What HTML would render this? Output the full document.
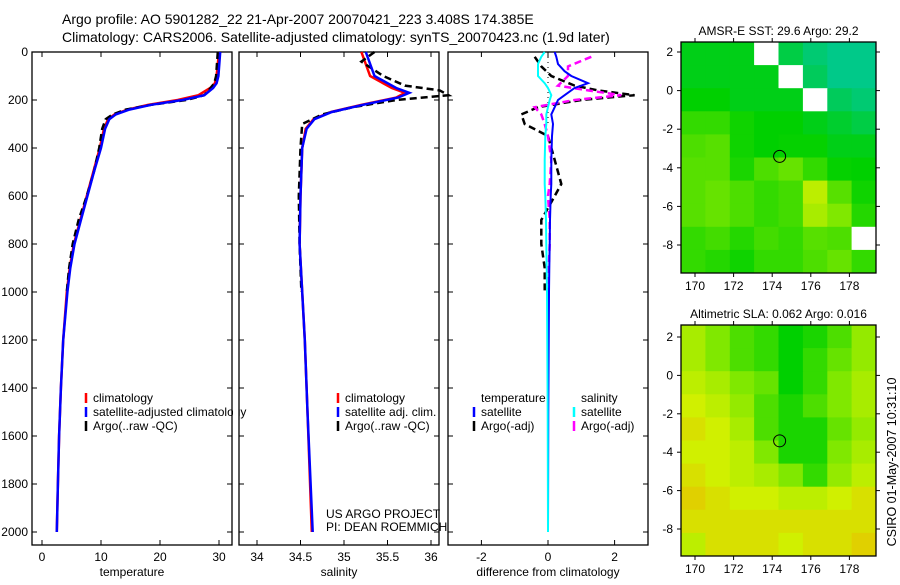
<!DOCTYPE html>
<html><head><meta charset="utf-8">
<style>
body{margin:0;background:#fff;width:900px;height:580px;overflow:hidden;font-family:"Liberation Sans",sans-serif;}
svg text{font-family:"Liberation Sans",sans-serif;}
</style></head>
<body>
<svg id="chart" width="900" height="580" xmlns="http://www.w3.org/2000/svg">
<text x="62" y="24" font-size="14">Argo profile: AO 5901282_22 21-Apr-2007 20070421_223 3.408S 174.385E</text>
<text x="62" y="42" font-size="14">Climatology: CARS2006. Satellite-adjusted climatology: synTS_20070423.nc (1.9d later)</text>
<text transform="translate(896,462) rotate(-90)" text-anchor="middle" font-size="12.5">CSIRO 01-May-2007 10:31:10</text>
</svg>
<script>
// ---- data ----
const depthTicks=[0,200,400,600,800,1000,1200,1400,1600,1800,2000];
const tempTicks=[0,10,20,30];
const salTicks=[34,34.5,35,35.5,36];
const diffTicks=[-2,0,2];
const tClimD=[0,100,130,150,180,200,220,240,260,280,320,400,500,600,700,800,900,1000,1200,1400,1600,1800,2000];
const tClimV=[30,29.6,29.3,28.5,26.5,23,18,14.5,12.3,11.2,10.5,9.8,8.7,7.6,6.5,5.4,4.7,4.2,3.6,3.2,2.9,2.7,2.5];
const tSatV=[30.2,29.9,29.6,29,27.5,23.8,18.5,14.8,12.5,11.4,10.7,10,8.8,7.7,6.6,5.5,4.8,4.3,3.6,3.2,2.9,2.7,2.5];
const tArgoD=[0,100,130,150,180,200,220,240,260,280,320,400,500,600,700,800,900,1000];
const tArgoV=[29.8,29.5,29.2,28.6,27.5,24.5,18.5,14.2,12,10.8,10.2,9.7,8.8,7.6,6.2,5.2,4.6,4.2];
const sClimD=[0,100,150,170,190,220,250,280,320,400,600,800,1000,1200,1500,2000];
const sClimV=[35.2,35.3,35.55,35.7,35.6,35.2,34.85,34.65,34.56,34.52,34.5,34.49,34.52,34.55,34.58,34.63];
const sSatV=[35.25,35.35,35.6,35.75,35.62,35.22,34.86,34.66,34.57,34.52,34.5,34.49,34.52,34.55,34.58,34.64];
const sArgoD=[0,40,100,140,160,180,200,230,260,300,400,600,800,1000];
const sArgoV=[35.35,35.2,35.45,35.7,36.1,36.2,35.6,35.1,34.75,34.52,34.5,34.48,34.49,34.51];
const dD=[0,20,50,80,100,130,150,180,200,230,260,300,350,450,550,600,700,800,900,1000,1200,1500,2000];
const dTSat=[0.2,0.25,0.3,0.5,0.7,1.2,0.8,0.5,0.3,0.2,0.1,0.15,0.12,0.1,0.1,0.08,0.06,0.05,0.04,0.03,0.02,0.01,0];
const dSSat=[-0.1,-0.2,-0.3,-0.3,-0.3,-0.1,0,0.1,0.05,0,-0.05,-0.05,-0.08,-0.1,-0.1,-0.08,-0.06,-0.05,-0.04,-0.03,-0.02,-0.01,0];
const aD=[20,60,100,140,160,180,200,230,260,300,350,450,550,600,700,800,900,1000];
const aTV=[-0.4,-0.2,0.1,0.8,1.5,2.6,1,-0.3,-0.8,-0.7,0,0.2,0.4,0.2,-0.2,-0.2,-0.1,-0.1];
const aSV=[1.3,0.6,0.6,0.3,1.2,2.2,0.8,-0.4,-0.2,-0.1,0,0.1,0.05,0,0.05,0.05,0.02,0.02];
const map1Grid=[
[.3,.3,.3,null,.2,.1,.05,.05],
[.3,.3,.3,.3,null,.15,.05,.05],
[.35,.35,.3,.3,.3,null,.15,.1],
[.45,.45,.38,.35,.35,.3,.25,.2],
[.5,.52,.38,.35,.36,.36,.3,.3],
[.52,.52,.4,.5,.55,.45,.36,.35],
[.52,.55,.5,.45,.48,.75,.52,.38],
[.52,.55,.5,.45,.48,.7,.6,.42],
[.45,.48,.42,.48,.45,.52,.5,null],
[.45,.42,.38,.45,.45,.5,.55,.45]];
const map2Grid=[
[.7,.6,.5,.45,.35,.4,.5,.65],
[.7,.6,.5,.45,.35,.45,.55,.65],
[.75,.7,.6,.55,.35,.45,.6,.7],
[.8,.75,.65,.5,.4,.5,.6,.7],
[.85,.8,.7,.5,.4,.4,.55,.65],
[.8,.8,.75,.6,.4,.4,.6,.7],
[.85,.8,.75,.7,.6,.45,.65,.75],
[.9,.85,.8,.8,.75,.75,.8,.85],
[.85,.85,.85,.85,.85,.85,.85,.85],
[.75,.85,.85,.85,.8,.85,.85,.9]];
const lonTicks=[170,172,174,176,178];
const latTicks=[2,0,-2,-4,-6,-8];
const floatLon=174.385, floatLat=-3.408;

const S=document.getElementById('chart');
const NS='http://www.w3.org/2000/svg';
function mk(t,a,p){const e=document.createElementNS(NS,t);for(const k in a)e.setAttribute(k,a[k]);(p||S).appendChild(e);return e;}
const yD=d=>52+d*0.24;
const pTop=52,pBot=545;
const xT=v=>42+v*5.9, xS=v=>257+(v-34)*87, xDf=v=>548+v*33.3;

function panel(name,x0,x1,ticks,xf,label,ylabels){
  let r=mk('rect',{x:x0,y:pTop,width:x1-x0,height:pBot-pTop,fill:'none',stroke:'#000','stroke-width':1.3});
  
  ticks.forEach(t=>{const x=xf(t);
    mk('line',{x1:x,x2:x,y1:pBot,y2:pBot-5,stroke:'#000'});mk('line',{x1:x,x2:x,y1:pTop,y2:pTop+5,stroke:'#000'});
    let tx=mk('text',{x:x,y:pBot+16,'text-anchor':'middle','font-size':12});tx.textContent=t;
    });
  depthTicks.forEach(d=>{const y=yD(d);
    mk('line',{x1:x0,x2:x0+5,y1:y,y2:y,stroke:'#000'});mk('line',{x1:x1,x2:x1-5,y1:y,y2:y,stroke:'#000'});
    if(ylabels){let tx=mk('text',{x:x0-4,y:y+4,'text-anchor':'end','font-size':12});tx.textContent=d;
    }});
  let l=mk('text',{x:(x0+x1)/2,y:pBot+31,'text-anchor':'middle','font-size':12});l.textContent=label;
  
}
function line(name,D,V,xf,col,w,dash){
  const pts=D.map((d,i)=>xf(V[i]).toFixed(1)+','+yD(d).toFixed(1)).join(' ');
  const a={points:pts,fill:'none',stroke:col,'stroke-width':w};if(dash)a['stroke-dasharray']=dash;
  const e=mk('polyline',a);
  
  
}
function leg(name,x,y,col,txt){
  mk('line',{x1:x,x2:x,y1:y-9,y2:y+1,stroke:col,'stroke-width':2.5});
  const t=mk('text',{x:x+7,y:y,'font-size':12});t.textContent=txt;
  
  
}
panel('temperature-panel',32,232,tempTicks,xT,'temperature',true);
line('temp-climatology',tClimD,tClimV,xT,'#f00',2.5);
line('temp-argo',tArgoD,tArgoV,xT,'#000',2.5,'7,4');
line('temp-satellite',tClimD,tSatV,xT,'#00f',2.5);
leg('legend-climatology',86,402,'#f00','climatology');
leg('legend-satellite-adj',86,416,'#00f','satellite-adjusted climatology');
leg('legend-argo',86,430,'#000','Argo(..raw -QC)');
mk('rect',{x:233,y:395,width:6,height:40,fill:'#fff'});

panel('salinity-panel',239,439,salTicks,xS,'salinity',false);
line('sal-climatology',sClimD,sClimV,xS,'#f00',2.5);
line('sal-argo',sArgoD,sArgoV,xS,'#000',2.5,'7,4');
line('sal-satellite',sClimD,sSatV,xS,'#00f',2.5);
leg('legend-sal-climatology',338,402,'#f00','climatology');
leg('legend-sal-satellite',338,416,'#00f','satellite adj. clim.');
leg('legend-sal-argo',338,430,'#000','Argo(..raw -QC)');
let t1=mk('text',{x:326,y:518,'font-size':12});t1.textContent='US ARGO PROJECT';

let t2=mk('text',{x:326,y:531,'font-size':12});t2.textContent='PI: DEAN ROEMMICH';


panel('difference-panel',448,648,diffTicks,xDf,'difference from climatology',false);
mk('line',{x1:xDf(0),x2:xDf(0),y1:yD(0),y2:yD(300),stroke:'#000','stroke-dasharray':'1,4'});
line('diff-temp-argo',aD,aTV,xDf,'#000',2.5,'7,4');
line('diff-sal-argo',aD,aSV,xDf,'#f0f',2.5,'7,4');
line('diff-temp-satellite',dD,dTSat,xDf,'#00f',2);
line('diff-sal-satellite',dD,dSSat,xDf,'#0ff',2);
let th=mk('text',{x:481,y:402,'font-size':12});th.textContent='temperature';

let sh=mk('text',{x:581,y:402,'font-size':12});sh.textContent='salinity';

leg('legend-diff-temp-sat',474,416,'#00f','satellite');
leg('legend-diff-temp-argo',474,430,'#000','Argo(-adj)');
leg('legend-diff-sal-sat',574,416,'#0ff','satellite');
leg('legend-diff-sal-argo',574,430,'#f0f','Argo(-adj)');

// maps
function cmap(v){
  const st=[[0,[0,200,160]],[0.35,[0,208,0]],[0.6,[128,232,0]],[0.8,[208,240,0]],[1,[240,176,0]]];
  for(let i=1;i<st.length;i++){if(v<=st[i][0]){const a=st[i-1],b=st[i],f=(v-a[0])/(b[0]-a[0]);
    return 'rgb('+a[1].map((c,j)=>Math.round(c+(b[1][j]-c)*f)).join(',')+')';}}
  return 'rgb(240,176,0)';
}
function drawMap(name,grid,x0,y0,w,h,lat2y,title){
  const xL=lon=>695+(lon-170)*19.3;
  const nr=grid.length,nc=grid[0].length;
  grid.forEach((row,r)=>row.forEach((v,c)=>{
    const x=x0+c*w/nc,y=y0+r*h/nr;
    const e=mk('rect',{x:x.toFixed(1),y:y.toFixed(1),width:(w/nc+0.5).toFixed(1),height:(h/nr+0.5).toFixed(1),fill:v===null?'#fff':cmap(v)});
    
    
  }));
  const fr=mk('rect',{x:x0,y:y0,width:w,height:h,fill:'none',stroke:'#000','stroke-width':1.3});
  
  lonTicks.forEach(l=>{const x=xL(l);mk('line',{x1:x,x2:x,y1:y0+h,y2:y0+h+4,stroke:'#000'});mk('line',{x1:x,x2:x,y1:y0,y2:y0-4,stroke:'#000'});
    const t=mk('text',{x:x,y:y0+h+17,'text-anchor':'middle','font-size':12});t.textContent=l;
    });
  latTicks.forEach(l=>{const y=lat2y(l);mk('line',{x1:x0-4,x2:x0,y1:y,y2:y,stroke:'#000'});mk('line',{x1:x0+w,x2:x0+w+4,y1:y,y2:y,stroke:'#000'});
    const t=mk('text',{x:x0-8,y:y+4,'text-anchor':'end','font-size':12});t.textContent=l;
    });
  const c=mk('circle',{cx:xL(floatLon),cy:lat2y(floatLat),r:6,fill:'none',stroke:'#000','stroke-width':1});
  
  const t=mk('text',{x:x0+w/2,y:y0-7,'text-anchor':'middle','font-size':12});t.textContent=title;
  
}
drawMap('sst-map',map1Grid,681,42,195,231,l=>52+(2-l)*19.3,'AMSR-E SST: 29.6 Argo: 29.2');
drawMap('sla-map',map2Grid,681,325,195,231,l=>337+(2-l)*19.2,'Altimetric SLA: 0.062 Argo: 0.016');
</script>
</body></html>
